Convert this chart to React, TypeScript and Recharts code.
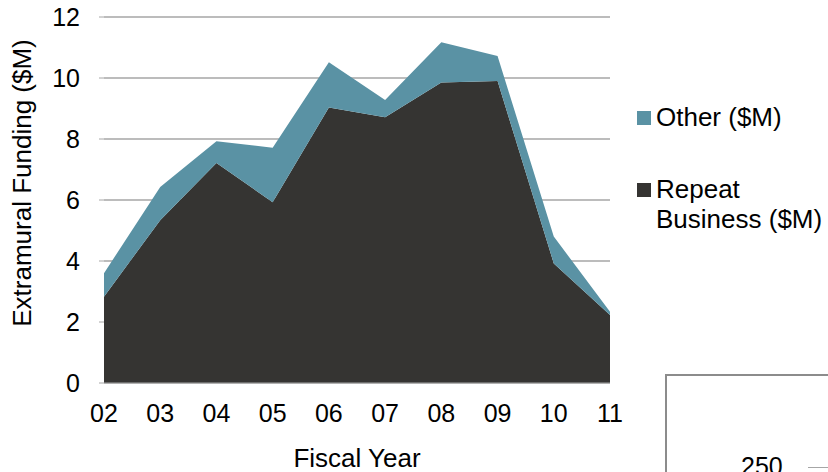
import React from "react";
import { AreaChart, Area, XAxis, YAxis, CartesianGrid, Legend } from "recharts";

const years = ["02", "03", "04", "05", "06", "07", "08", "09", "10", "11"];
const repeatBusiness = [2.83, 5.34, 7.21, 5.93, 9.03, 8.71, 9.85, 9.9, 3.92, 2.23];
const other = [0.77, 1.09, 0.72, 1.78, 1.49, 0.57, 1.32, 0.82, 0.88, 0.11];
const yTicks = [0, 2, 4, 6, 8, 10, 12];

const data = years.map((y, i) => ({
  year: y,
  repeat: repeatBusiness[i],
  other: other[i],
}));

const FONT = "'Liberation Sans', Arial, sans-serif";
const TEAL = "#5A92A4";
const DARK = "#353432";

const renderLegend = (props: any) => {
  const items = [...(props.payload || [])].sort((a: any, b: any) =>
    a.value === "Other ($M)" ? -1 : b.value === "Other ($M)" ? 1 : 0
  );
  return (
    <div style={{ fontFamily: FONT, fontSize: 26, color: "#000" }}>
      {items.map((it: any, i: number) => (
        <div
          key={i}
          style={{ display: "flex", alignItems: "flex-start", marginBottom: i === 0 ? 42 : 0 }}
        >
          <div
            style={{
              width: 14,
              height: 14,
              background: it.color,
              marginTop: 9,
              marginRight: 5,
              flex: "none",
            }}
          />
          <div style={{ lineHeight: "30px", width: 180, whiteSpace: "nowrap" }}>
            {it.value === "Repeat Business ($M)" ? (
              <>
                Repeat
                <br />
                Business ($M)
              </>
            ) : (
              it.value
            )}
          </div>
        </div>
      ))}
    </div>
  );
};

export default function App() {
  return (
    <div
      style={{
        position: "absolute",
        left: 0,
        top: 0,
        width: 828,
        height: 472,
        background: "#fff",
        overflow: "hidden",
        fontFamily: FONT,
      }}
    >
      <AreaChart
        width={828}
        height={472}
        data={data}
        margin={{ top: 17, right: 218, left: 0, bottom: 0 }}
      >
        <CartesianGrid vertical={false} stroke="#A6A6A6" strokeWidth={1.5} />
        <XAxis
          dataKey="year"
          height={89}
          axisLine={{ stroke: "#A6A6A6" }}
          tickLine={false}
          tickSize={0}
          tickMargin={21}
          tick={{ fill: "#000", fontSize: 25, fontFamily: FONT }}
          interval={0}
          label={{
            value: "Fiscal Year",
            position: "insideBottom",
            offset: 5,
            fill: "#000",
            fontSize: 26,
            fontFamily: FONT,
          }}
        />
        <YAxis
          width={104}
          domain={[0, 12]}
          ticks={yTicks}
          axisLine={false}
          tickLine={{ stroke: "#A6A6A6" }}
          tickSize={5}
          tickMargin={19}
          tick={{ fill: "#000", fontSize: 25, fontFamily: FONT }}
          label={{
            value: "Extramural Funding ($M)",
            angle: -90,
            position: "insideLeft",
            offset: 22,
            dy: -17,
            style: { textAnchor: "middle" },
            fill: "#000",
            fontSize: 26,
            fontFamily: FONT,
          }}
        />
        <Legend
          layout="vertical"
          align="center"
          verticalAlign="middle"
          content={renderLegend}
          wrapperStyle={{ position: "absolute", left: 637, top: 102, width: 191 }}
        />
        <Area
          type="linear"
          dataKey="repeat"
          name="Repeat Business ($M)"
          stackId="a"
          stroke="none"
          fill={DARK}
          fillOpacity={1}
          isAnimationActive={false}
        />
        <Area
          type="linear"
          dataKey="other"
          name="Other ($M)"
          stackId="a"
          stroke="none"
          fill={TEAL}
          fillOpacity={1}
          isAnimationActive={false}
        />
      </AreaChart>
      <div
        style={{
          position: "absolute",
          left: 665,
          top: 374,
          width: 200,
          height: 120,
          border: "2px solid #8C8C8C",
          boxSizing: "border-box",
        }}
      />
      <div
        style={{
          position: "absolute",
          left: 741,
          top: 453,
          fontSize: 25,
          fontFamily: FONT,
          color: "#000",
          lineHeight: "26px",
        }}
      >
        250
      </div>
      <div
        style={{
          position: "absolute",
          left: 808,
          top: 467,
          width: 20,
          height: 1,
          background: "#A6A6A6",
        }}
      />
    </div>
  );
}
